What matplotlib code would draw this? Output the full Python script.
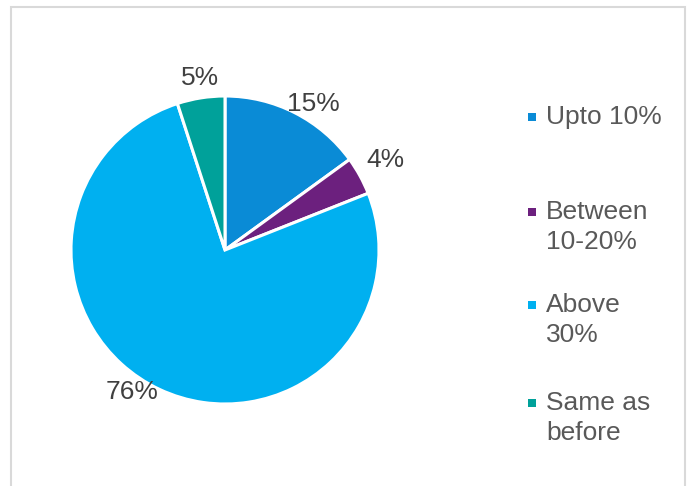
import numpy as np
import matplotlib
matplotlib.use("Agg")
import matplotlib.pyplot as plt
from matplotlib.patches import Rectangle

plt.rcParams['font.family'] = ['Liberation Sans', 'DejaVu Sans']

categories = ["Upto 10%", "Between\n10-20%", "Above\n30%", "Same as\nbefore"]
values = [15, 4, 76, 5]
colors = ["#0A8BD6", "#6C207E", "#00B0F0", "#00A19A"]

# per-label placement of the percentage text (distance from centre, alignment)
label_dist = [0.98, 1.05, 1.02, 1.05]
label_ha = ["left", "left", "right", "center"]
label_va = ["bottom", "bottom", "center", "bottom"]

W, H = 696, 486
fig = plt.figure(figsize=(W / 100, H / 100), dpi=100)

# light grey chart frame (bottom edge runs off the picture)
fig.patches.append(Rectangle((10.5 / W, -0.05), (684.5 - 10.5) / W, 1.05 - 7.5 / H,
                             transform=fig.transFigure, fill=False,
                             edgecolor="#D9D9D9", linewidth=1.5))

cx, cy, r = 225, 250, 154
half = 1.4 * r
ax = fig.add_axes([(cx - half) / W, (H - cy - half) / H, 2 * half / W, 2 * half / H])
wedges, _ = ax.pie(values, colors=colors, startangle=90, counterclock=False,
                   wedgeprops=dict(edgecolor="white", linewidth=2.2))
ax.set_xlim(-1.4, 1.4)
ax.set_ylim(-1.4, 1.4)
ax.axis("off")

for w, v, d, ha, va in zip(wedges, values, label_dist, label_ha, label_va):
    ang = np.deg2rad((w.theta1 + w.theta2) / 2)
    ax.text(d * np.cos(ang) - (0.04 if ha == "left" and d < 1 else 0),
            d * np.sin(ang), f"{v}%", ha=ha, va=va,
            fontsize=19, color="#404040")

# legend drawn by hand: square marker next to first line of each label
leg_y = [117, 212, 305, 403]
for lab, col, y in zip(categories, colors, leg_y):
    fig.patches.append(Rectangle((528 / W, (H - y - 4) / H), 8 / W, 8 / H,
                                 transform=fig.transFigure, facecolor=col,
                                 edgecolor="none"))
    fig.text(546 / W, (H - y + 12) / H, lab, ha="left", va="top",
             fontsize=19, color="#595959", linespacing=1.3)

fig.savefig("out.png", dpi=100)
